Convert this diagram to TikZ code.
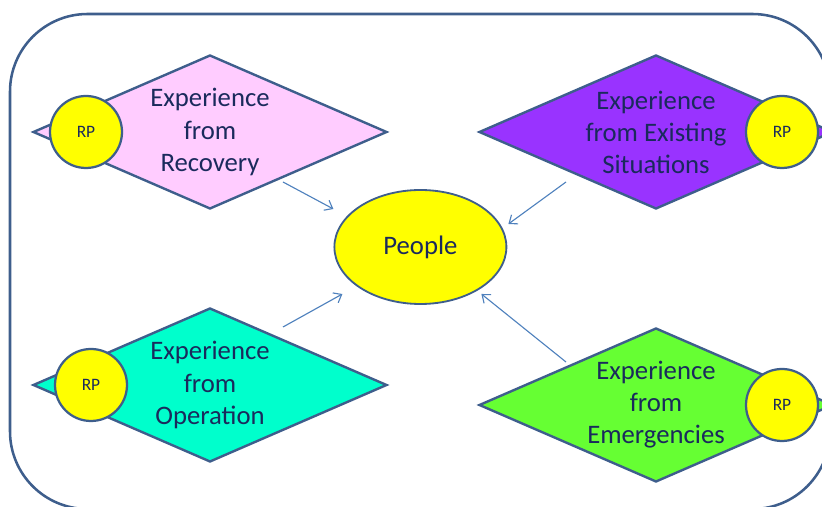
\documentclass[tikz,border=0pt]{standalone}
\usepackage{fontspec}
\setmainfont{Carlito}
\usepackage{tikz}
\usetikzlibrary{shapes.geometric,arrows.meta}

\definecolor{frameblue}{RGB}{62,94,140}
\definecolor{arrowblue}{RGB}{79,129,189}
\definecolor{textnavy}{RGB}{26,42,92}
\definecolor{recpink}{RGB}{255,204,255}
\definecolor{existpurple}{RGB}{153,51,255}
\definecolor{opercyan}{RGB}{0,255,204}
\definecolor{emerggreen}{RGB}{102,255,51}
\definecolor{rpyellow}{RGB}{255,255,0}

\tikzset{
	expbox/.style={diamond, draw=frameblue, line width=1.7pt, inner sep=0pt,
		aspect=2.3, minimum width=8.85cm, minimum height=3.85cm, align=center,
		text=textnavy, font=\fontsize{19}{22.8}\selectfont},
	rpdot/.style={circle, draw=frameblue, line width=1.6pt, fill=rpyellow,
		minimum size=1.8cm, inner sep=0pt, text=textnavy,
		font=\fontsize{12.4}{14}\selectfont},
	feed/.style={-{Straight Barb[length=5pt, width=8pt]}, draw=arrowblue, line width=0.8pt}
}

\begin{document}
\begin{tikzpicture}
		% Canvas
		\useasboundingbox (0, 0) rectangle (20.55, 12.675);
		\clip (0, 0) rectangle (20.55, 12.675);

		% Outer frame
		\draw[frameblue, line width=1.8pt, rounded corners=1.94cm] (0.25, -0.05) rectangle (20.75, 12.325);

		% Centre
		\node[ellipse, draw=frameblue, line width=1.3pt, fill=rpyellow, minimum width=4.3cm, minimum height=2.85cm, text=textnavy, font=\fontsize{19}{22.8}\selectfont] (people) at (10.51, 6.5) {People};

		% Sources of experience
		\node[expbox, fill=recpink] (recovery) at (5.25, 9.375) {Experience\\from\\Recovery};
		\node[expbox, fill=existpurple] (existing) at (16.4, 9.375) {Experience\\from Existing\\Situations};
		\node[expbox, fill=opercyan] (operation) at (5.25, 3.05) {Experience\\from\\Operation};
		\node[expbox, fill=emerggreen] (emergency) at (16.4, 2.55) {Experience\\from\\Emergencies};

		% RP markers
		\node[rpdot] (rprec) at (2.15, 9.375) {RP};
		\node[rpdot] (rpexist) at (19.55, 9.375) {RP};
		\node[rpdot] (rpoper) at (2.275, 3.05) {RP};
		\node[rpdot] (rpemerg) at (19.55, 2.55) {RP};

		% Arrows to people
		\draw[feed] ([shift={(1.825, -1.25)}]recovery.center) -- ([shift={(-2.175, 0.95)}]people.center);
		\draw[feed] ([shift={(-2.25, -1.25)}]existing.center) -- ([shift={(2.2, 0.575)}]people.center);
		\draw[feed] ([shift={(1.825, 1.45)}]operation.center) -- ([shift={(-1.95, -1.175)}]people.center);
		\draw[feed] ([shift={(-2.25, 1.075)}]emergency.center) -- ([shift={(1.525, -1.175)}]people.center);
	\end{tikzpicture}
\end{document}
